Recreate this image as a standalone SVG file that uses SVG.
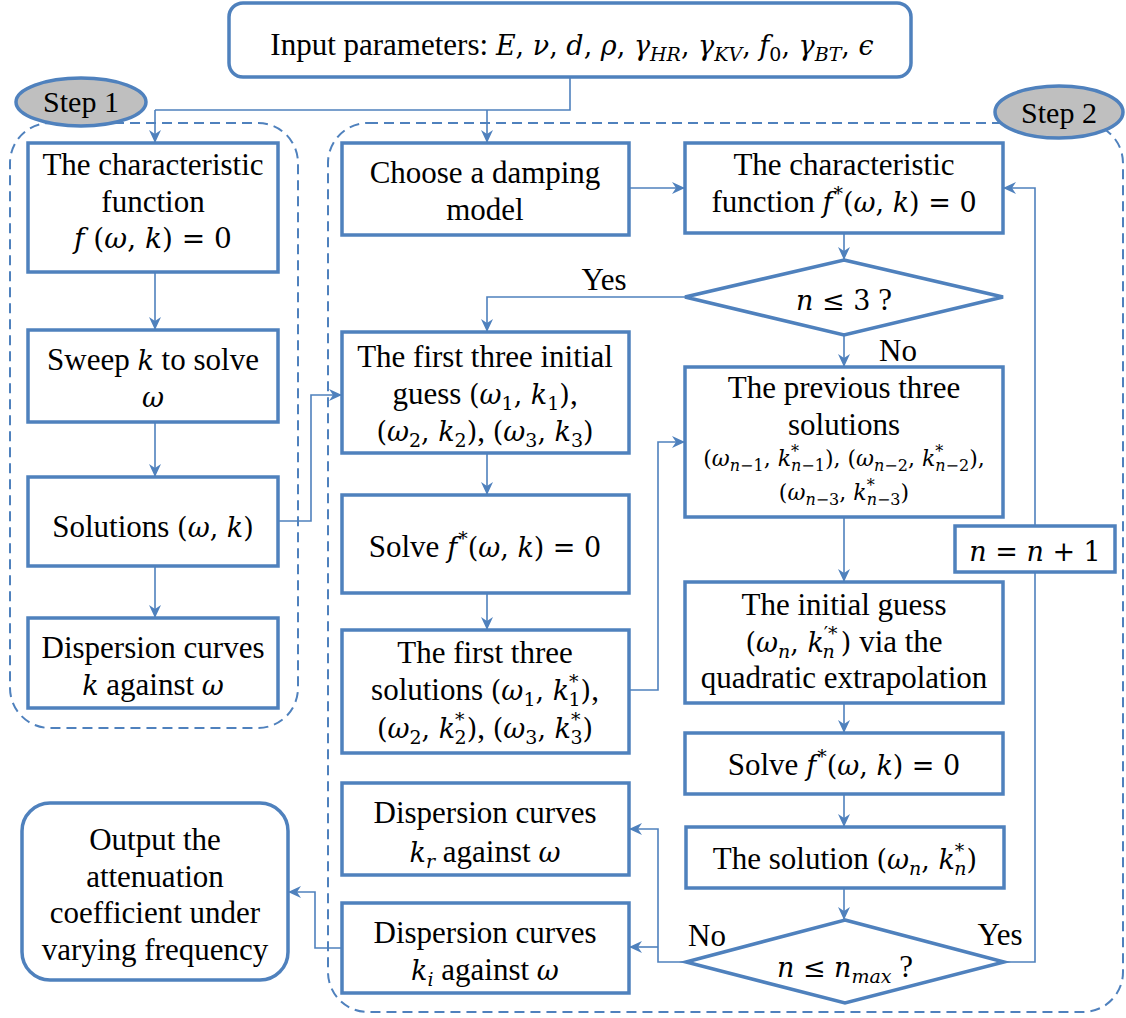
<svg xmlns="http://www.w3.org/2000/svg" width="1126" height="1018" viewBox="0 0 1126 1018" font-family="'Liberation Serif', serif">
<defs>
<marker id="ah" markerUnits="userSpaceOnUse" markerWidth="14" markerHeight="14" refX="13" refY="7" orient="auto">
<path d="M0,1 L13,7 L0,13 L4,7 z" fill="#4f81bd"/>
</marker>
<style>
.box{fill:#fff;stroke:#4f81bd;stroke-width:3.5}
.grp{fill:none;stroke:#4f81bd;stroke-width:2;stroke-dasharray:10 6}
.oval{fill:#bfbfbf;stroke:#4f81bd;stroke-width:3.5}
.c{fill:none;stroke:#4f81bd;stroke-width:1.6}
.ca{fill:none;stroke:#4f81bd;stroke-width:1.6;marker-end:url(#ah)}
text{font-family:'Liberation Serif',serif;font-size:31px;fill:#000;text-anchor:middle}
.mm{font-family:'DejaVu Serif',serif;font-size:27px}
.m{font-style:italic}
.s{font-size:19px}
.sm{font-size:22px}
.ss{font-size:16px}
</style>
</defs>

<g id="containers">
<rect class="grp" x="10" y="123" width="288" height="605" rx="40"/>
<rect class="grp" x="328" y="123" width="795" height="889" rx="40"/>
</g>

<g id="connectors">
<path class="c" d="M570,77 V110 H155"/>
<path class="ca" d="M155,110 V143"/>
<path class="ca" d="M487,110 V143"/>
<path class="ca" d="M155,272 V330"/>
<path class="ca" d="M155,422 V477"/>
<path class="ca" d="M155,566 V618"/>
<path class="ca" d="M278,521 H311 V395 H342"/>
<path class="ca" d="M629,188 H685"/>
<path class="ca" d="M844,233 V260"/>
<path class="ca" d="M685,297 H487 V332"/>
<path class="ca" d="M844,335 V367"/>
<path class="ca" d="M487,453 V495"/>
<path class="ca" d="M487,593 V630"/>
<path class="ca" d="M629,690 H658 V442 H685"/>
<path class="ca" d="M844,517 V582"/>
<path class="ca" d="M844,703 V733"/>
<path class="ca" d="M844,794 V827"/>
<path class="ca" d="M844,888 V920"/>
<path class="ca" d="M1004,962 H1035 V188 H1003"/>
<path class="ca" d="M686,962 H658 V829 H629"/>
<path class="ca" d="M658,947 H629"/>
<path class="ca" d="M342,948 H315 V892 H288"/>
<text x="604" y="290">Yes</text>
<text x="898" y="361">No</text>
<text x="707" y="946">No</text>
<text x="1000" y="945">Yes</text>
</g>

<g id="step1">
<ellipse class="oval" cx="81" cy="102" rx="65" ry="24"/>
<text x="81" y="112" style="font-size:30px">Step 1</text>
</g>
<g id="step2">
<ellipse class="oval" cx="1059" cy="112" rx="64" ry="26"/>
<text x="1059" y="123" style="font-size:30px">Step 2</text>
</g>

<g id="input">
<rect class="box" x="229" y="3" width="682" height="74" rx="14"/>
<text x="572" y="55">Input parameters: <tspan class="mm"><tspan class="m">E</tspan>, <tspan class="m">ν</tspan>, <tspan class="m">d</tspan>, <tspan class="m">ρ</tspan>, <tspan class="m">γ</tspan><tspan class="m s" dy="6">HR</tspan><tspan dy="-6">, </tspan><tspan class="m">γ</tspan><tspan class="m s" dy="6">KV</tspan><tspan dy="-6">, </tspan><tspan class="m">f</tspan><tspan class="s" dy="6">0</tspan><tspan dy="-6">, </tspan><tspan class="m">γ</tspan><tspan class="m s" dy="6">BT</tspan><tspan dy="-6">, </tspan><tspan class="m">ϵ</tspan></tspan></text>
</g>

<g id="char1">
<rect class="box" x="28" y="143" width="250" height="129"/>
<text x="153" y="175">The characteristic</text>
<text x="153" y="212">function</text>
<text x="153" y="248" class="mm" style="font-size:28px"><tspan class="m">f</tspan> (<tspan class="m">ω</tspan>, <tspan class="m">k</tspan>) = 0</text>
</g>
<g id="sweep">
<rect class="box" x="28" y="330" width="250" height="92"/>
<text x="153" y="370">Sweep <tspan class="mm m">k</tspan> to solve</text>
<text x="153" y="407" class="mm m">ω</text>
</g>
<g id="sol1">
<rect class="box" x="28" y="477" width="250" height="89"/>
<text x="153" y="537">Solutions <tspan class="mm">(<tspan class="m">ω</tspan>, <tspan class="m">k</tspan>)</tspan></text>
</g>
<g id="disp1">
<rect class="box" x="28" y="618" width="250" height="90"/>
<text x="153" y="658">Dispersion curves</text>
<text x="153" y="695"><tspan class="mm m">k</tspan> against <tspan class="mm m">ω</tspan></text>
</g>

<g id="choose">
<rect class="box" x="342" y="143" width="287" height="92"/>
<text x="485" y="183">Choose a damping</text>
<text x="485" y="220">model</text>
</g>
<g id="guess3">
<rect class="box" x="342" y="332" width="287" height="121"/>
<text x="485" y="367">The first three initial</text>
<text x="485" y="404">guess <tspan class="mm">(<tspan class="m">ω</tspan><tspan class="s" dy="6">1</tspan><tspan dy="-6">, </tspan><tspan class="m">k</tspan><tspan class="s" dy="6">1</tspan><tspan dy="-6">)</tspan></tspan>,</text>
<text x="485" y="441"><tspan class="mm">(<tspan class="m">ω</tspan><tspan class="s" dy="6">2</tspan><tspan dy="-6">, </tspan><tspan class="m">k</tspan><tspan class="s" dy="6">2</tspan><tspan dy="-6">)</tspan></tspan>, <tspan class="mm">(<tspan class="m">ω</tspan><tspan class="s" dy="6">3</tspan><tspan dy="-6">, </tspan><tspan class="m">k</tspan><tspan class="s" dy="6">3</tspan><tspan dy="-6">)</tspan></tspan></text>
</g>
<g id="solve1">
<rect class="box" x="342" y="495" width="287" height="98"/>
<text x="485" y="557">Solve <tspan class="mm"><tspan class="m">f</tspan><tspan class="s" dx="1" dy="-12">*</tspan><tspan dy="12">(</tspan><tspan class="m">ω</tspan>, <tspan class="m">k</tspan>) = 0</tspan></text>
</g>
<g id="first3">
<rect class="box" x="342" y="630" width="287" height="123"/>
<text x="485" y="663">The first three</text>
<text x="485" y="700">solutions <tspan class="mm">(<tspan class="m">ω</tspan><tspan class="s" dy="6">1</tspan><tspan dy="-6">, </tspan><tspan class="m">k</tspan><tspan class="s" dy="-12">*</tspan><tspan class="s" dx="-10" dy="18">1</tspan><tspan dy="-6">)</tspan></tspan>,</text>
<text x="485" y="738"><tspan class="mm">(<tspan class="m">ω</tspan><tspan class="s" dy="6">2</tspan><tspan dy="-6">, </tspan><tspan class="m">k</tspan><tspan class="s" dy="-12">*</tspan><tspan class="s" dx="-10" dy="18">2</tspan><tspan dy="-6">)</tspan></tspan>, <tspan class="mm">(<tspan class="m">ω</tspan><tspan class="s" dy="6">3</tspan><tspan dy="-6">, </tspan><tspan class="m">k</tspan><tspan class="s" dy="-12">*</tspan><tspan class="s" dx="-10" dy="18">3</tspan><tspan dy="-6">)</tspan></tspan></text>
</g>
<g id="dispr">
<rect class="box" x="342" y="783" width="287" height="92"/>
<text x="485" y="823">Dispersion curves</text>
<text x="485" y="862"><tspan class="mm"><tspan class="m">k</tspan><tspan class="m s" dy="6">r</tspan></tspan><tspan dy="-6"> against </tspan><tspan class="mm m">ω</tspan></text>
</g>
<g id="dispi">
<rect class="box" x="342" y="903" width="287" height="90"/>
<text x="485" y="943">Dispersion curves</text>
<text x="485" y="980"><tspan class="mm"><tspan class="m">k</tspan><tspan class="m s" dy="6">i</tspan></tspan><tspan dy="-6"> against </tspan><tspan class="mm m">ω</tspan></text>
</g>
<g id="output">
<rect class="box" x="22" y="803" width="266" height="177" rx="28"/>
<text x="155" y="850">Output the</text>
<text x="155" y="887">attenuation</text>
<text x="155" y="923">coefficient under</text>
<text x="155" y="960">varying frequency</text>
</g>

<g id="char2">
<rect class="box" x="685" y="143" width="318" height="90"/>
<text x="844" y="175">The characteristic</text>
<text x="844" y="212">function <tspan class="mm"><tspan class="m">f</tspan><tspan class="s" dx="1" dy="-12">*</tspan><tspan dy="12">(</tspan><tspan class="m">ω</tspan>, <tspan class="m">k</tspan>) = 0</tspan></text>
</g>
<g id="dec1">
<polygon class="box" points="844,260 1003,297 844,335 685,297"/>
<text x="844" y="310"><tspan class="mm"><tspan class="m">n</tspan> ≤ 3</tspan> ?</text>
</g>
<g id="prev">
<rect class="box" x="685" y="367" width="318" height="150"/>
<text x="844" y="398">The previous three</text>
<text x="844" y="435">solutions</text>
<text x="844" y="466" class="mm sm">(<tspan class="m">ω</tspan><tspan class="m ss" dy="5">n</tspan><tspan class="ss">−1</tspan><tspan dy="-5">, </tspan><tspan class="m">k</tspan><tspan class="ss" dy="-9">*</tspan><tspan class="m ss" dx="-8" dy="14">n</tspan><tspan class="ss">−1</tspan><tspan dy="-5">), (</tspan><tspan class="m">ω</tspan><tspan class="m ss" dy="5">n</tspan><tspan class="ss">−2</tspan><tspan dy="-5">, </tspan><tspan class="m">k</tspan><tspan class="ss" dy="-9">*</tspan><tspan class="m ss" dx="-8" dy="14">n</tspan><tspan class="ss">−2</tspan><tspan dy="-5">),</tspan></text>
<text x="844" y="500" class="mm sm">(<tspan class="m">ω</tspan><tspan class="m ss" dy="5">n</tspan><tspan class="ss">−3</tspan><tspan dy="-5">, </tspan><tspan class="m">k</tspan><tspan class="ss" dy="-9">*</tspan><tspan class="m ss" dx="-8" dy="14">n</tspan><tspan class="ss">−3</tspan><tspan dy="-5">)</tspan></text>
</g>
<g id="incr">
<rect class="box" x="955" y="526" width="160" height="46"/>
<text x="1035" y="561" class="mm"><tspan class="m">n</tspan> = <tspan class="m">n</tspan> + 1</text>
</g>
<g id="initguess">
<rect class="box" x="685" y="582" width="318" height="121"/>
<text x="844" y="615">The initial guess</text>
<text x="844" y="652"><tspan class="mm">(<tspan class="m">ω</tspan><tspan class="m s" dy="6">n</tspan><tspan dy="-6">, </tspan><tspan class="m">k</tspan><tspan class="s" dy="-12">′*</tspan><tspan class="m s" dx="-15" dy="18">n</tspan><tspan dx="6" dy="-6">)</tspan></tspan> via the</text>
<text x="844" y="688">quadratic extrapolation</text>
</g>
<g id="solve2">
<rect class="box" x="685" y="733" width="318" height="61"/>
<text x="844" y="775">Solve <tspan class="mm"><tspan class="m">f</tspan><tspan class="s" dx="1" dy="-12">*</tspan><tspan dy="12">(</tspan><tspan class="m">ω</tspan>, <tspan class="m">k</tspan>) = 0</tspan></text>
</g>
<g id="solution">
<rect class="box" x="686" y="827" width="318" height="61"/>
<text x="845" y="869">The solution <tspan class="mm">(<tspan class="m">ω</tspan><tspan class="m s" dy="6">n</tspan><tspan dy="-6">, </tspan><tspan class="m">k</tspan><tspan class="s" dy="-12">*</tspan><tspan class="m s" dx="-10" dy="18">n</tspan><tspan dy="-6">)</tspan></tspan></text>
</g>
<g id="dec2">
<polygon class="box" points="845,920 1004,962 845,1003 686,962"/>
<text x="845" y="977"><tspan class="mm"><tspan class="m">n</tspan> ≤ <tspan class="m">n</tspan><tspan class="m s" dy="6">max</tspan></tspan><tspan dy="-6"> ?</tspan></text>
</g>
</svg>
